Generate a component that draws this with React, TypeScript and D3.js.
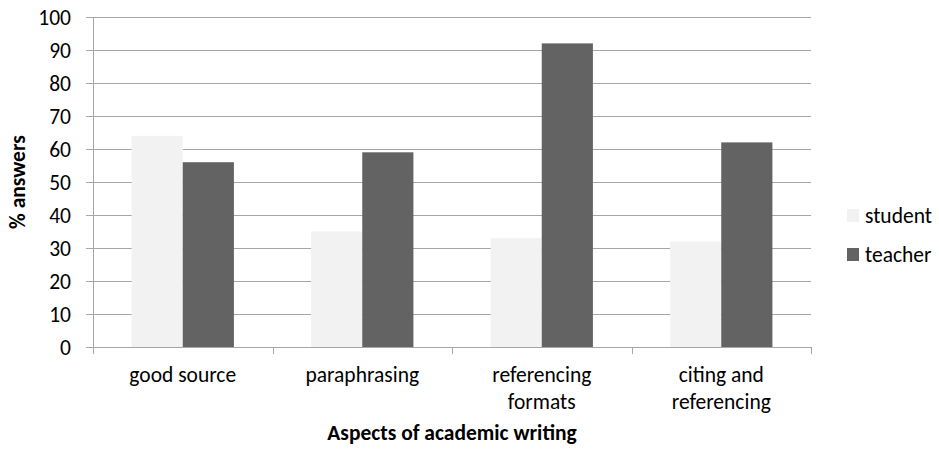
import React, { useEffect, useRef } from 'react';
import * as d3 from 'd3';

const categories = ['good source', 'paraphrasing', 'referencing formats', 'citing and referencing'];
const categoryLines = [['good source'], ['paraphrasing'], ['referencing', 'formats'], ['citing and', 'referencing']];
const studentValues = [64, 35, 33, 32];
const teacherValues = [56, 59, 92, 62];
const seriesNames = ['student', 'teacher'];
const seriesColors = ['#f2f2f2', '#636363'];
const yTicks = [0, 10, 20, 30, 40, 50, 60, 70, 80, 90, 100];

const FONT = 'Calibri, Carlito, Lato, sans-serif';
const FS = 21.5;

export default function App() {
  const svgRef = useRef<SVGSVGElement>(null);

  useEffect(() => {
    if (!svgRef.current) return;
    const svg = d3.select(svgRef.current);
    svg.selectAll('*').remove();

    const margin = { top: 17, right: 128, bottom: 104, left: 93 };
    const width = 939 - margin.left - margin.right;
    const height = 451 - margin.top - margin.bottom;

    const g = svg.append('g').attr('transform', `translate(${margin.left},${margin.top})`);

    const x = d3.scaleBand().domain(categories).range([0, width]);
    const y = d3.scaleLinear().domain([0, 100]).range([height, 0]);
    const barW = x.bandwidth() * 0.285;

    // Grid + y tick labels
    yTicks.forEach((t) => {
      g.append('line')
        .attr('x1', -7).attr('x2', width)
        .attr('y1', Math.round(y(t)) + 0.5).attr('y2', Math.round(y(t)) + 0.5)
        .attr('stroke', '#a6a6a6').attr('stroke-width', 1);
      g.append('text')
        .attr('x', -22).attr('y', y(t))
        .attr('dy', '0.36em')
        .attr('text-anchor', 'end')
        .attr('font-size', FS)
        .attr('fill', '#000')
        .text(t);
    });

    // Bars
    const series = [studentValues, teacherValues];
    series.forEach((vals, s) => {
      vals.forEach((v, i) => {
        const cx = (x(categories[i]) as number) + x.bandwidth() / 2;
        g.append('rect')
          .attr('x', cx - barW + s * barW)
          .attr('y', y(v))
          .attr('width', barW)
          .attr('height', height - y(v))
          .attr('fill', seriesColors[s]);
      });
    });

    // Axis lines
    g.append('line')
      .attr('x1', 0.5).attr('x2', 0.5).attr('y1', 0).attr('y2', height + 7)
      .attr('stroke', '#a6a6a6');
    g.append('line')
      .attr('x1', 0).attr('x2', width).attr('y1', Math.round(height) + 0.5).attr('y2', Math.round(height) + 0.5)
      .attr('stroke', '#a6a6a6');
    [0, 1, 2, 3, 4].forEach((k) => {
      const xx = Math.round(k * x.step()) + 0.5;
      g.append('line')
        .attr('x1', xx).attr('x2', xx).attr('y1', height).attr('y2', height + 7)
        .attr('stroke', '#a6a6a6');
    });

    // Category labels
    categories.forEach((c, i) => {
      const cx = (x(c) as number) + x.bandwidth() / 2;
      categoryLines[i].forEach((line, j) => {
        g.append('text')
          .attr('x', cx)
          .attr('y', height + 35 + j * 27)
          .attr('text-anchor', 'middle')
          .attr('font-size', FS)
          .text(line);
      });
    });

    // Axis titles
    svg.append('text')
      .attr('x', margin.left + width / 2)
      .attr('y', 440)
      .attr('text-anchor', 'middle')
      .attr('font-size', FS)
      .attr('font-weight', 'bold')
      .text('Aspects of academic writing');
    svg.append('text')
      .attr('transform', `translate(25,${margin.top + height / 2}) rotate(-90)`)
      .attr('text-anchor', 'middle')
      .attr('font-size', FS)
      .attr('font-weight', 'bold')
      .text('% answers');

    // Legend
    seriesNames.forEach((name, s) => {
      const ly = 209 + s * 39;
      svg.append('rect')
        .attr('x', 847).attr('y', ly).attr('width', 12).attr('height', 13)
        .attr('fill', seriesColors[s]);
      svg.append('text')
        .attr('x', 865).attr('y', ly + 14)
        .attr('font-size', FS)
        .text(name);
    });
  }, []);

  return (
    <svg ref={svgRef} width={939} height={451}
      style={{ position: 'absolute', left: 0, top: 0, fontFamily: FONT, background: '#fff' }} />
  );
}
